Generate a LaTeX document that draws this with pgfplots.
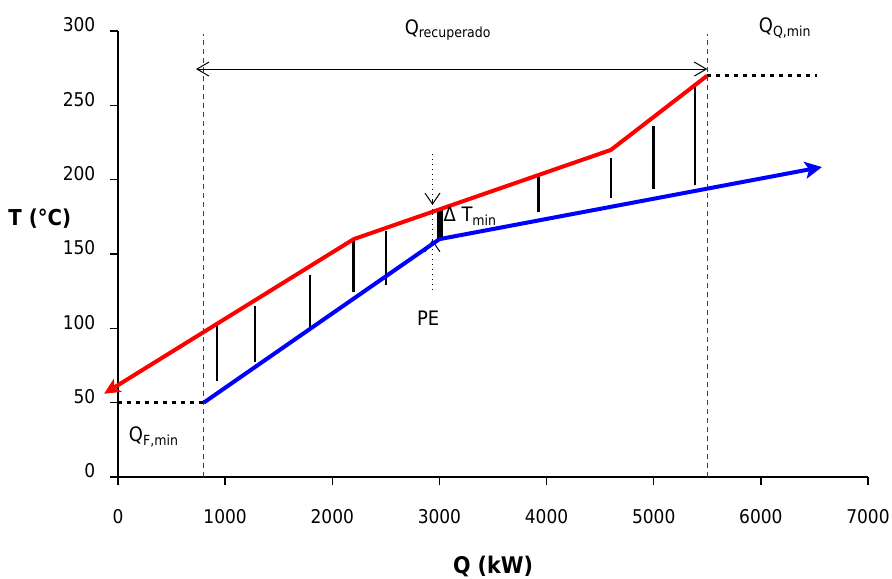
\documentclass[border=0pt]{standalone}
\usepackage{fontspec}
\setmainfont{DejaVu Sans Condensed}
\usepackage{pgfplots}
\pgfplotsset{compat=1.18}
\usetikzlibrary{arrows.meta}

\begin{document}
\begin{tikzpicture}
\fontsize{9.5}{11}\selectfont
\begin{axis}[
    anchor=origin, at={(0,0)},
    scale only axis,
    width=375bp, height=223bp,   % 1 px = 0.5 bp
    xmin=0, xmax=7000, ymin=0, ymax=300,
    axis lines*=left,
    axis line style={line width=0.75bp},
    tick align=outside,
    major tick length=4bp,
    tick style={line width=0.75bp, black},
    xtick={0,1000,...,7000},
    ytick={0,50,...,300},
    /pgf/number format/assume math mode=true,
    /pgf/number format/set thousands separator={},
    xticklabel style={yshift=-9bp},
    yticklabel style={xshift=-4bp, yshift=3bp},
    clip=false,
]
% limites verticales
\addplot[line width=0.6bp, black!75, dash pattern=on 2.5bp off 2bp] coordinates {(800,0) (800,298)};
\addplot[line width=0.6bp, black!75, dash pattern=on 2.5bp off 2bp] coordinates {(5500,0) (5500,298)};
% servicios minimos
\addplot[line width=1.6bp, black, dash pattern=on 2bp off 2.5bp] coordinates {(0,50) (800,50)};
\addplot[line width=1.6bp, black, dash pattern=on 2bp off 2.5bp] coordinates {(5500,270) (6520,270)};
% Q recuperado
\addplot[line width=0.5bp, black, {Straight Barb[length=6bp,width=7bp]}-{Straight Barb[length=6bp,width=7bp]}]
    coordinates {(728,274.4) (5500,274.4)};
% barras de intercambio
\addplot[line width=1.2bp, black] coordinates {(924,101.5) (924,64.6)};
\addplot[line width=1.2bp, black] coordinates {(1279,115) (1279,77.6)};
\addplot[line width=1.2bp, black] coordinates {(1793,135.8) (1793,100)};
\addplot[line width=1.2bp, black] coordinates {(2197,160.7) (2197,124.6)};
\addplot[line width=1.2bp, black] coordinates {(2502,165.6) (2502,129)};
\addplot[line width=1.2bp, black] coordinates {(3924,201.5) (3924,178)};
\addplot[line width=1.2bp, black] coordinates {(4603,214.3) (4603,188)};
\addplot[line width=1.2bp, black] coordinates {(4998,236) (4998,193.5)};
\addplot[line width=1.2bp, black] coordinates {(5387,262.5) (5387,196.4)};
\addplot[line width=2.6bp, black] coordinates {(3006,180) (3006,160.5)};
% punto de pinch
\addplot[line width=0.5bp, black, dotted] coordinates {(2935,217) (2935,126)};
\addplot[line width=0.5bp, black, -{Straight Barb[length=5.5bp,width=7.5bp]}] coordinates {(2935,186) (2935,183)};
\addplot[line width=0.5bp, black, -{Straight Barb[length=5.5bp,width=7.5bp]}] coordinates {(2935,156) (2935,159.5)};
% corriente caliente
\addplot[line width=2bp, red, line join=round, -{Stealth[length=8bp,width=7.5bp,inset=2bp]}]
    coordinates {(5500,270) (4600,220) (3000,180) (2200,160) (-130,56)};
% corriente fria
\addplot[line width=2bp, blue, line join=round, -{Stealth[length=8.5bp,width=8.5bp,inset=2bp]}]
    coordinates {(800,50) (3000,160) (6570,208.5)};
% textos
\node[font=\fontsize{10}{12}\selectfont] at (axis cs:3081,300.6) {Q\textsubscript{recuperado}};
\node[anchor=west, font=\fontsize{10}{12}\selectfont] at (axis cs:5920,302) {Q\textsubscript{Q,min}};
\node[anchor=west, font=\fontsize{10}{12}\selectfont] at (axis cs:40,27) {Q\textsubscript{F,min}};
\node[anchor=west, inner sep=0pt, font=\fontsize{10}{12}\selectfont] at (axis cs:3035,175.5) {Δ T\textsubscript{min}};
\node[font=\fontsize{10}{12}\selectfont] at (axis cs:2895,107) {PE};
\node[font=\bfseries\fontsize{11}{13}\selectfont] at (axis cs:-730,174) {T (°C)};
\node[font=\bfseries\fontsize{11.5}{13}\selectfont] at (axis cs:3500,-60.5) {Q (kW)};
\end{axis}
\pgfresetboundingbox
\path[use as bounding box] (-59bp,-51bp) rectangle (387bp,238.5bp);
\end{tikzpicture}
\end{document}
